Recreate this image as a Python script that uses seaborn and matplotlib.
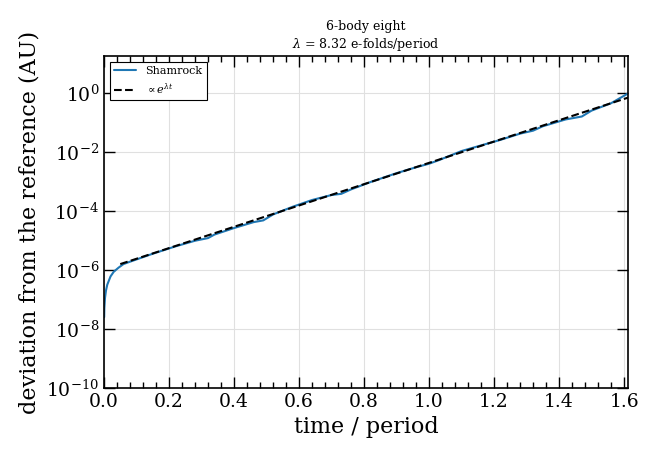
import numpy as np
import pandas as pd
import matplotlib
matplotlib.use("Agg")
import matplotlib.pyplot as plt
import seaborn as sns
from matplotlib.ticker import MultipleLocator, LogLocator, NullLocator

# deviation curve (time in periods, log10 of deviation in AU)
t_dev = [0.0005, 0.001, 0.003, 0.006, 0.01, 0.02, 0.03, 0.045, 0.06, 0.08,
         0.15, 0.22, 0.28, 0.32, 0.34, 0.40, 0.46, 0.49, 0.52, 0.58,
         0.64, 0.70, 0.73, 0.76, 0.82, 0.90, 0.96, 1.00, 1.03, 1.10,
         1.16, 1.22, 1.28, 1.32, 1.35, 1.42, 1.47, 1.50, 1.56, 1.612]
log_dev = [-7.6, -7.3, -6.95, -6.7, -6.5, -6.22, -6.06, -5.92, -5.8, -5.72,
           -5.45, -5.20, -5.01, -4.92, -4.80, -4.58, -4.38, -4.32, -4.12, -3.86,
           -3.63, -3.46, -3.42, -3.27, -3.02, -2.72, -2.52, -2.40, -2.28, -1.97,
           -1.78, -1.59, -1.38, -1.28, -1.13, -0.90, -0.80, -0.60, -0.35, -0.02]

# exponential fit endpoints
t_fit = [0.05, 1.612]
y_fit = [1.58e-6, 0.69]

title = "6-body eight\n$\\lambda$ = 8.32 e-folds/period"

df = pd.DataFrame({"t": t_dev, "dev": 10.0 ** np.array(log_dev)})
fit = pd.DataFrame({"t": t_fit, "dev": y_fit})

sns.set_style("ticks")
plt.rcParams["font.family"] = ["DejaVu Serif"]
plt.rcParams["mathtext.fontset"] = "dejavuserif"
for k in ["text.color", "axes.labelcolor", "xtick.color", "ytick.color", "axes.edgecolor"]:
    plt.rcParams[k] = "black"

fig = plt.figure(figsize=(6.6, 4.59), dpi=100)
ax = fig.add_axes([0.1576, 0.1547, 0.7939, 0.7233])

sns.lineplot(data=df, x="t", y="dev", ax=ax, color="#1f77b4", lw=1.5,
             label="Shamrock")
sns.lineplot(data=fit, x="t", y="dev", ax=ax, color="black", lw=1.5,
             linestyle="--", label="$\\propto e^{\\lambda t}$")

ax.set_yscale("log")
ax.set_xlim(0, 1.612)
ax.set_ylim(1e-10, 17.8)
ax.xaxis.set_major_locator(MultipleLocator(0.2))
ax.xaxis.set_minor_locator(MultipleLocator(0.04))
ax.yaxis.set_major_locator(LogLocator(base=100))
ax.yaxis.set_minor_locator(NullLocator())

ax.tick_params(which="both", direction="in", top=True, right=True,
               labelsize=13.5, width=1)
ax.tick_params(which="major", length=8)
ax.tick_params(which="minor", length=4)
ax.grid(True, color="#e0e0e0", lw=0.8)
for s in ax.spines.values():
    s.set_linewidth(1.2)

ax.set_xlabel("time / period", fontsize=16)
ax.set_ylabel("deviation from the reference (AU)", fontsize=16)
ax.set_title(title, fontsize=9)

leg = ax.legend(loc="upper left", fontsize=8, fancybox=False,
                edgecolor="black", framealpha=1)
leg.get_frame().set_linewidth(0.8)

fig.savefig("out.png", dpi=100)
